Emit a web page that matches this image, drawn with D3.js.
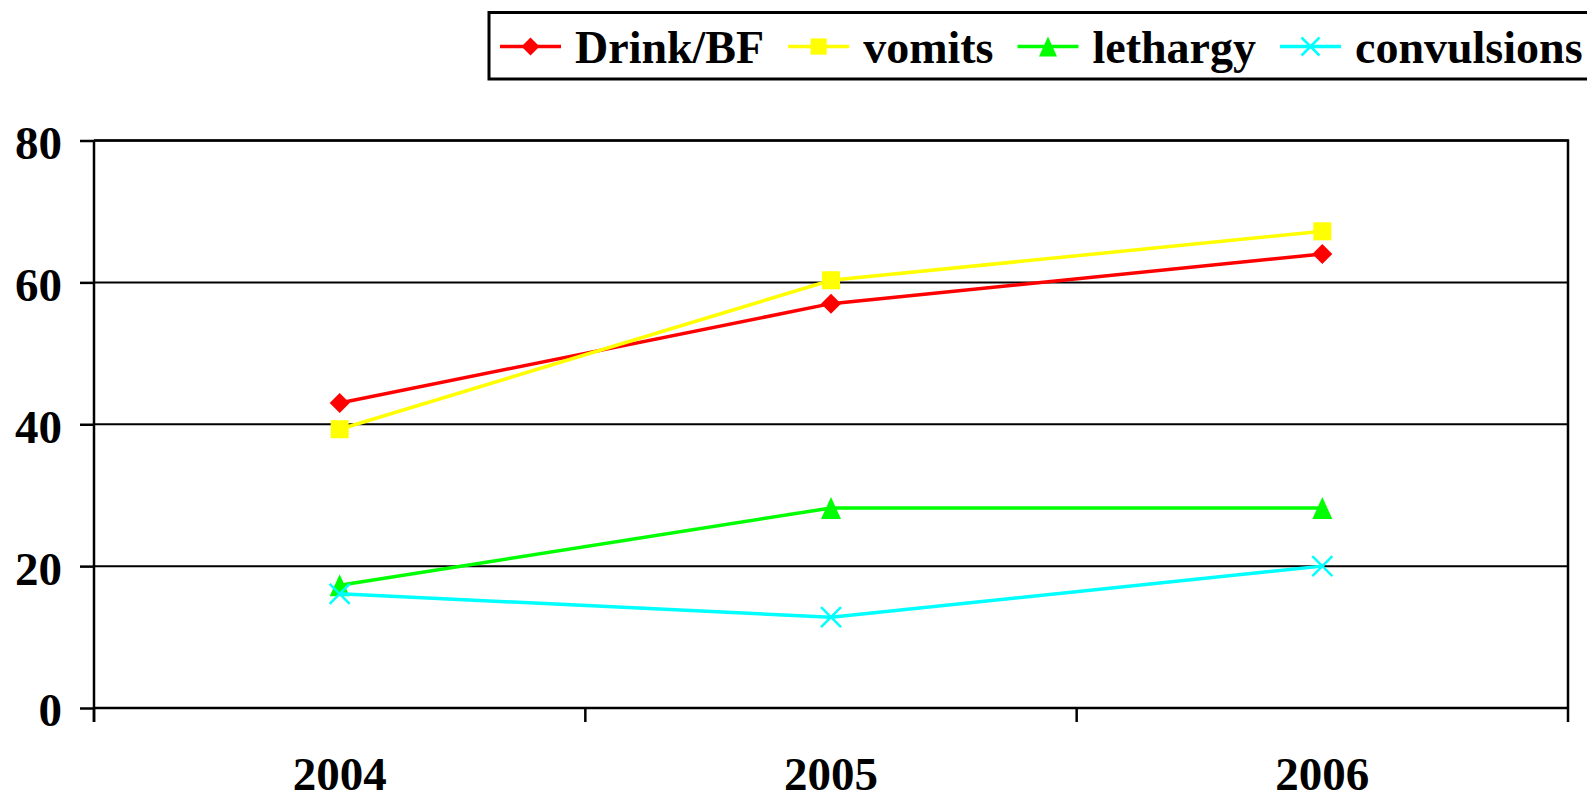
<!DOCTYPE html>
<html>
<head>
<meta charset="utf-8">
<script src="https://cdn.jsdelivr.net/npm/d3@7"></script>
<style>
  body { margin: 0; background: #fff; }
  text { font-family: "Liberation Serif", "Times New Roman", serif; font-weight: bold; fill: #000; }
</style>
</head>
<body>
<div id="chart"></div>
<script>
const years = ['2004', '2005', '2006'];
const yTicks = [0, 20, 40, 60, 80];
const seriesNames = ['Drink/BF', 'vomits', 'lethargy', 'convulsions'];
const drinkBF = [43, 57, 64];
const vomits = [39.3, 60.3, 67.2];
const lethargy = [17.3, 28.2, 28.2];
const convulsions = [16.1, 12.8, 20];

const series = [
  { name: seriesNames[0], values: drinkBF, color: '#FF0000', marker: 'diamond' },
  { name: seriesNames[1], values: vomits, color: '#FFFF00', marker: 'square' },
  { name: seriesNames[2], values: lethargy, color: '#00FF00', marker: 'triangle' },
  { name: seriesNames[3], values: convulsions, color: '#00FFFF', marker: 'cross' }
];

const W = 1587, H = 796;
const plot = { left: 94, right: 1568, top: 140.5, bottom: 708 };

const svg = d3.select('#chart').append('svg').attr('width', W).attr('height', H);

const x = d3.scaleBand().domain(years).range([plot.left, plot.right]).padding(0);
const y = d3.scaleLinear().domain([0, 80]).range([plot.bottom, plot.top]);

// gridlines
svg.append('g').selectAll('line')
  .data(yTicks.filter(d => d > 0))
  .enter().append('line')
  .attr('x1', plot.left).attr('x2', plot.right)
  .attr('y1', d => y(d)).attr('y2', d => y(d))
  .attr('stroke', '#000').attr('stroke-width', 2);

// plot border (right + top)
svg.append('path')
  .attr('d', `M${plot.left},${plot.top}H${plot.right}V${plot.bottom}`)
  .attr('fill', 'none').attr('stroke', '#000').attr('stroke-width', 2.5);

// y axis
const yAxis = d3.axisLeft(y).tickValues(yTicks).tickSize(14).tickSizeOuter(0).tickPadding(18);
const yg = svg.append('g').attr('transform', `translate(${plot.left},0)`).call(yAxis);
yg.select('.domain').attr('stroke-width', 2.5).attr('d', `M0,${plot.top}V${plot.bottom + 14}`);
yg.selectAll('.tick line').attr('stroke-width', 2.5);
yg.selectAll('.tick text')
  .attr('font-size', 47).attr('font-family', null).attr('dy', '0.38em');

// x axis: ticks on band boundaries
const xg = svg.append('g').attr('transform', `translate(0,${plot.bottom})`);
xg.append('line').attr('x1', plot.left).attr('x2', plot.right).attr('stroke', '#000').attr('stroke-width', 2.5);
const bounds = years.map(d => x(d)).concat([x(years[years.length - 1]) + x.bandwidth()]);
xg.selectAll('.xt').data(bounds).enter().append('line')
  .attr('x1', d => d).attr('x2', d => d).attr('y1', 0).attr('y2', 14)
  .attr('stroke', '#000').attr('stroke-width', 2.5);
xg.selectAll('.xl').data(years).enter().append('text')
  .attr('x', d => x(d) + x.bandwidth() / 2)
  .attr('y', 82)
  .attr('text-anchor', 'middle')
  .attr('font-size', 47)
  .text(d => d);

function drawMarker(sel, type, color, s) {
  const h = s / 2;
  if (type === 'diamond') {
    sel.append('path').attr('d', `M0,${-h}L${h},0L0,${h}L${-h},0Z`).attr('fill', color);
  } else if (type === 'square') {
    sel.append('rect').attr('x', -h * 0.9).attr('y', -h * 0.9).attr('width', s * 0.9).attr('height', s * 0.9).attr('fill', color);
  } else if (type === 'triangle') {
    sel.append('path').attr('d', `M0,${-h * 1.1}L${h},${h * 1.1}L${-h},${h * 1.1}Z`).attr('fill', color);
  } else {
    sel.append('path').attr('d', `M${-h},${-h}L${h},${h}M${-h},${h}L${h},${-h}`)
      .attr('stroke', color).attr('stroke-width', 2.5).attr('fill', 'none');
  }
}

const line = d3.line()
  .x((d, i) => x(years[i]) + x.bandwidth() / 2)
  .y(d => y(d));

series.forEach(s => {
  const grp = svg.append('g');
  grp.append('path').datum(s.values).attr('d', line)
    .attr('fill', 'none').attr('stroke', s.color).attr('stroke-width', 3.5);
  grp.selectAll('.m').data(s.values).enter().append('g')
    .attr('transform', (d, i) => `translate(${x(years[i]) + x.bandwidth() / 2},${y(d)})`)
    .each(function() { drawMarker(d3.select(this), s.marker, s.color, 20); });
});

// legend
const legend = svg.append('g');
legend.append('rect')
  .attr('x', 489).attr('y', 12.5).attr('width', 1130).attr('height', 66.5)
  .attr('fill', '#fff').attr('stroke', '#000').attr('stroke-width', 3);
let lx = 500;
series.forEach(s => {
  const it = legend.append('g');
  it.append('line').attr('x1', lx).attr('x2', lx + 61).attr('y1', 46.5).attr('y2', 46.5)
    .attr('stroke', s.color).attr('stroke-width', 3.5);
  const mk = it.append('g').attr('transform', `translate(${lx + 30.5},46.5)`);
  drawMarker(mk, s.marker, s.color, 18);
  const t = it.append('text').attr('x', lx + 75).attr('y', 62.5).attr('font-size', 46).text(s.name);
  lx = lx + 75 + t.node().getComputedTextLength() + 24;
});
</script>
</body>
</html>
